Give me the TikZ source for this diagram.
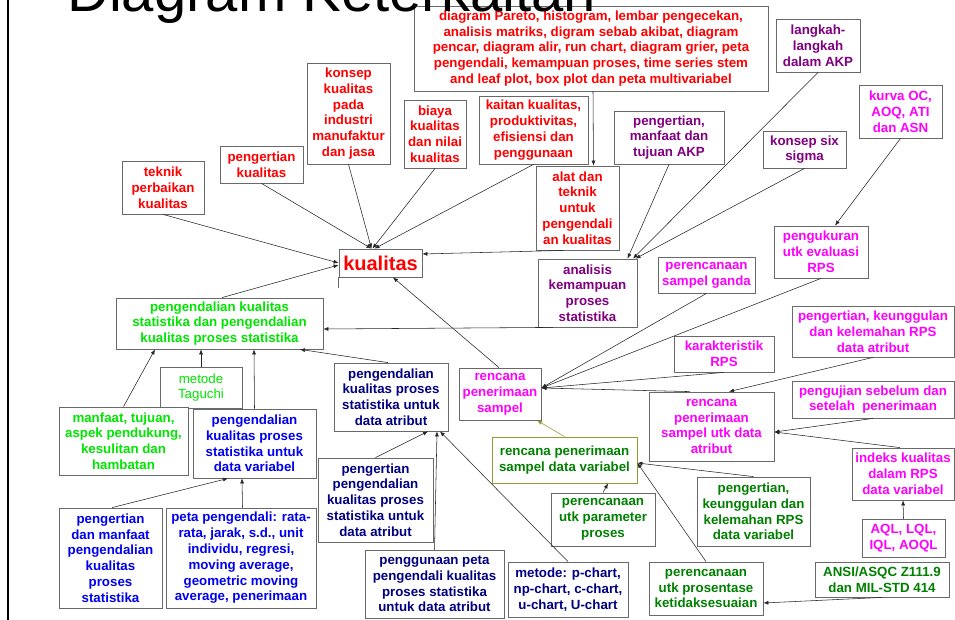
\documentclass[tikz,border=0pt]{standalone}
\usepackage{fontspec}
\setmainfont{Liberation Sans}
\usetikzlibrary{arrows.meta}
\definecolor{boxgray}{RGB}{105,105,105}
\definecolor{cred}{RGB}{255,0,0}
\definecolor{cpurple}{RGB}{128,0,128}
\definecolor{cmag}{RGB}{255,0,255}
\definecolor{cgreen}{RGB}{0,230,0}
\definecolor{cblue}{RGB}{0,0,240}
\definecolor{cnavy}{RGB}{0,0,128}
\definecolor{cdgreen}{RGB}{0,128,0}
\definecolor{colive}{RGB}{153,153,51}
\tikzset{
 bx/.style={draw=boxgray, line width=0.8pt, fill=white, inner sep=0pt, align=center,
   font=\fontsize{13.3}{15.8}\selectfont\bfseries},
 conn/.style={draw=black!85, line width=0.55pt, -{Latex[length=5pt,width=4pt]}},
}
\newcommand\bxn[6]{\node[bx,text=#2,minimum width=#4pt,minimum height=#5pt] (#1) at (#3) {#6};}
\begin{document}
\begin{tikzpicture}[x=1pt,y=-1pt]
\useasboundingbox (0,0) rectangle (955,620);
\fill[white] (0,0) rectangle (955,620);
\draw[line width=2.5pt] (8,-2) -- (8,622);

% red group
\bxn{teknik}{cred}{163,187.5}{82}{53}{teknik\\perbaikan\\kualitas}
\bxn{pengk}{cred}{261.5,164.5}{83}{37}{pengertian\\kualitas}
\bxn{konsep}{cred}{348.5,113.5}{83}{101}{konsep\\kualitas\\pada\\industri\\manufaktur\\dan jasa}
\bxn{biaya}{cred}{435,134}{62}{68}{biaya\\kualitas\\dan nilai\\kualitas}
\bxn{kaitan}{cred}{533.5,130}{109}{68}{kaitan kualitas,\\produktivitas,\\efisiensi dan\\penggunaan}
\bxn{pareto}{cred}{591,48.5}{354}{85}{diagram Pareto, histogram, lembar pengecekan,\\analisis matriks, digram sebab akibat, diagram\\pencar, diagram alir, run chart, diagram grier, peta\\pengendali, kemampuan proses, time series stem\\and leaf plot, box plot dan peta multivariabel}
\bxn{alat}{cred}{577.5,208}{83}{84}{alat dan\\teknik\\untuk\\pengendali\\an kualitas}
\node[bx,text=cred,minimum width=83pt,minimum height=28pt,font=\fontsize{20}{22}\selectfont\bfseries] (kualitas) at (380.5,263) {kualitas};

% purple group
\bxn{analisis}{cpurple}{587.5,293}{99}{68}{analisis\\kemampuan\\proses\\statistika}
\bxn{pakp}{cpurple}{669,137.5}{110}{53}{pengertian,\\manfaat dan\\tujuan AKP}
\bxn{langkah}{cpurple}{818,45.5}{84}{53}{langkah-\\langkah\\dalam AKP}
\bxn{six}{cpurple}{804.5,149.5}{83}{37}{konsep six\\sigma}

% magenta group
\bxn{kurva}{cmag}{900.5,111.5}{83}{53}{kurva OC,\\AOQ, ATI\\dan ASN}
\bxn{pengukuran}{cmag}{821,252}{94}{52}{pengukuran\\utk evaluasi\\RPS}
\bxn{ganda}{cmag}{706.5,275}{97}{36}{perencanaan\\sampel ganda}
\bxn{karakteristik}{cmag}{724,354}{100}{36}{karakteristik\\RPS}
\bxn{kekatribut}{cmag}{873,331.5}{162}{51}{pengertian, keunggulan\\dan kelemahan RPS\\data atribut}
\bxn{pengujian}{cmag}{873,399.5}{162}{37}{pengujian sebelum dan\\setelah\ \ penerimaan}
\bxn{rsatribut}{cmag}{711.5,426.5}{125}{69}{rencana\\penerimaan\\sampel utk data\\atribut}
\bxn{rsampel}{cmag}{500,394}{82}{52}{rencana\\penerimaan\\sampel}
\bxn{indeks}{cmag}{903,474}{102}{52}{indeks kualitas\\dalam RPS\\data variabel}
\bxn{aql}{cmag}{903.5,538}{83}{38}{AQL, LQL,\\IQL, AOQL}

% dark green group
\bxn{ansi}{cdgreen}{882,579.5}{134}{35}{ANSI/ASQC Z111.9\\dan MIL-STD 414}
\node[bx,draw=colive,text=cdgreen,minimum width=145pt,minimum height=46pt] (rvariabel) at (564.5,460) {rencana penerimaan\\sampel data variabel};
\bxn{param}{cdgreen}{603,519.5}{104}{53}{perencanaan\\utk parameter\\proses}
\bxn{kekvariabel}{cdgreen}{753.5,511.5}{113}{69}{pengertian,\\keunggulan dan\\kelemahan RPS\\data variabel}
\bxn{prosentase}{cdgreen}{706,588.5}{114}{53}{perencanaan\\utk prosentase\\ketidaksesuaian}

% bright green group
\bxn{pkstat}{cgreen}{219.5,323.5}{207}{51}{pengendalian kualitas\\statistika dan pengendalian\\kualitas proses statistika}
\node[bx,text=cgreen,minimum width=82pt,minimum height=41pt,font=\fontsize{13.3}{15.8}\selectfont] (taguchi) at (201,387.5) {metode\\Taguchi};
\bxn{manfaat}{cgreen}{123.5,441}{129}{68}{manfaat, tujuan,\\aspek pendukung,\\kesulitan dan\\hambatan}

% blue group
\bxn{pkvar}{cblue}{254.5,443.5}{123}{69}{pengendalian\\kualitas proses\\statistika untuk\\data variabel}
\bxn{pdm}{cblue}{110.5,558}{103}{100}{pengertian\\dan manfaat\\pengendalian\\kualitas\\proses\\statistika}
\bxn{peta}{cblue}{241,558}{150}{100}{peta pengendali: rata-\\rata, jarak, s.d., unit\\individu, regresi,\\moving average,\\geometric moving\\average, penerimaan}

% navy group
\bxn{pkatr}{cnavy}{391,397}{114}{68}{pengendalian\\kualitas proses\\statistika untuk\\data atribut}
\bxn{ppat}{cnavy}{375.5,500}{115}{84}{pengertian\\pengendalian\\kualitas proses\\statistika untuk\\data atribut}
\bxn{pengpeta}{cnavy}{434.5,584}{139}{68}{penggunaan peta\\pengendali kualitas\\proses statistika\\untuk data atribut}
\bxn{metode}{cnavy}{568,589.5}{120}{55}{metode: p-chart,\\np-chart, c-chart,\\u-chart, U-chart}

% connectors to kualitas
\draw[conn] (teknik.south) -- (kualitas.west);
\draw[conn] (pengk.south) -- ([xshift=-9pt]kualitas.north);
\draw[conn] (konsep.south) -- ([xshift=-9pt]kualitas.north);
\draw[conn] (biaya.south) -- ([xshift=-8pt]kualitas.north);
\draw[conn] (kaitan.south) -- ([xshift=-6pt]kualitas.north);
\draw[conn] ([xshift=2pt]pareto.south) -- ([xshift=16pt]alat.north);
\draw[conn] ([xshift=-13.5pt]alat.south) -- ([yshift=9pt]kualitas.east);
\draw[conn] ([xshift=-1pt]rsampel.north) -- ([xshift=12.5pt]kualitas.south);
\draw[conn] ([xshift=2.5pt]pkstat.north) -- ([yshift=-2pt]kualitas.west);
\draw[line width=0.8pt,draw=boxgray] (kualitas.south west) -- ++(0,11);

% to analisis and pkstat
\draw[conn] ([xshift=-34.5pt]analisis.south) -- ([yshift=-5.5pt]pkstat.east);
\draw[conn] (langkah.south) -- ([xshift=45.5pt]analisis.north);
\draw[conn] (pakp.south) -- ([xshift=40pt]analisis.north);
\draw[conn] (six.south) -- ([xshift=48pt]analisis.north);

% RPS
\draw[conn] (kurva.south) -- ([xshift=14pt]pengukuran.north);
\draw[conn] (ganda.south) -- ([yshift=6pt]rsampel.east);
\draw[conn] (pengukuran.south) -- ([yshift=6pt]rsampel.east);
\draw[conn] (karakteristik.south) -- ([yshift=6pt]rsampel.east);
\draw[conn] ([xshift=-21.5pt]rsatribut.north) -- ([yshift=6pt]rsampel.east);
\draw[conn] (kekatribut.south) -- ([xshift=17.5pt]rsatribut.north);
\draw[conn] (pengujian.south) -- ([yshift=-5.5pt]rsatribut.east);
\draw[conn] ([xshift=-3pt]indeks.north) -- ([yshift=-5.5pt]rsatribut.east);
\draw[conn] (aql.north) -- (indeks.south);
\draw[conn] (ansi.south) -- ([yshift=-14.5pt]prosentase.east);
\draw[conn,draw=colive,-{Latex[length=5pt,width=4pt,fill=colive]}] (rvariabel.north) -- ([xshift=37pt]rsampel.south);
\draw[conn] (param.north) -- ([xshift=43.5pt]rvariabel.south);
\draw[conn] (kekvariabel.north) -- ([yshift=-3pt]rvariabel.east);
\draw[conn] (prosentase.north) -- ([yshift=-3pt]rvariabel.east);

% statistika group
\draw[conn] (taguchi.north) -- ([xshift=-18.5pt]pkstat.south);
\draw[conn] (manfaat.north) -- ([xshift=-64.5pt]pkstat.south);
\draw[conn] (pkvar.north) -- ([xshift=34.5pt]pkstat.south);
\draw[conn] ([xshift=-3pt]pkatr.north) -- ([xshift=80.5pt]pkstat.south);
\draw[conn] ([xshift=1.5pt]pdm.north) -- ([xshift=-26.5pt]pkvar.south);
\draw[conn] ([xshift=1.5pt]peta.north) -- ([xshift=-12.5pt]pkvar.south);
\draw[conn] (ppat.north) -- ([xshift=37pt]pkatr.south);
\draw[conn] (pengpeta.north) -- ([xshift=46pt]pkatr.south);
\draw[conn] (metode.north) -- ([xshift=49pt]pkatr.south);

\node[anchor=base west, inner sep=0pt, font=\fontsize{58}{60}\selectfont] (title) at (67,12) {Diagram Keterkaitan};
\end{tikzpicture}
\end{document}
